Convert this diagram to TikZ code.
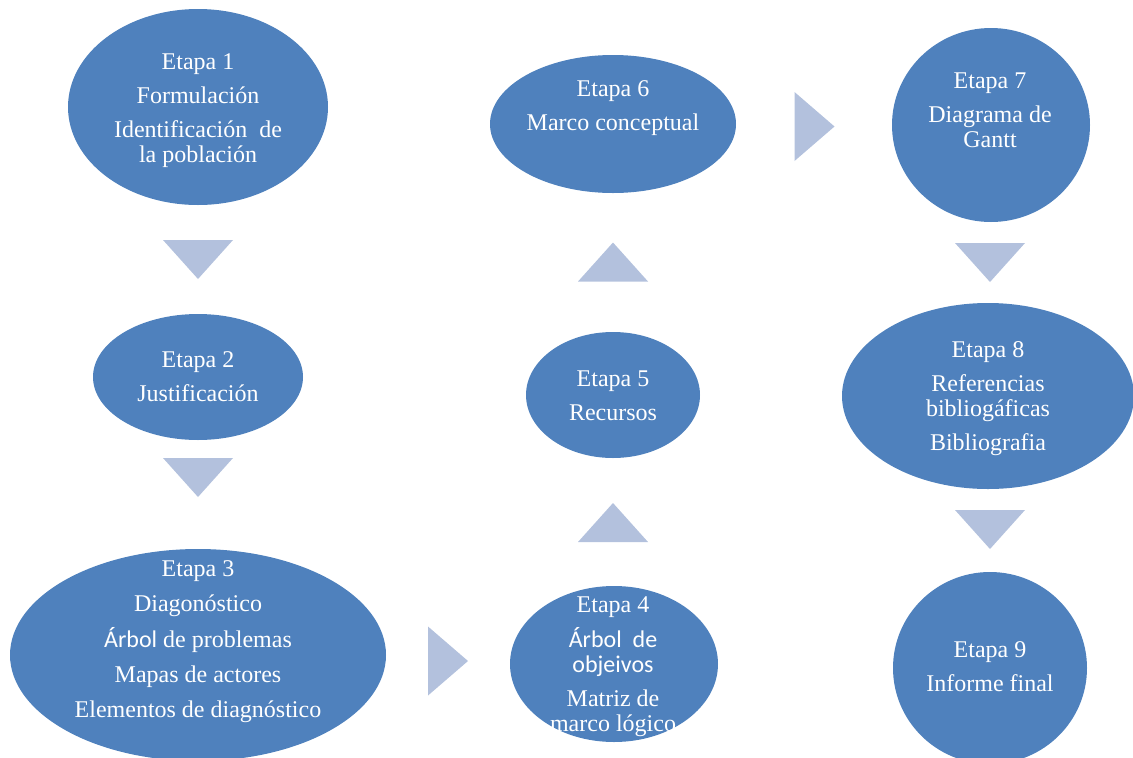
\documentclass[tikz,border=0pt]{standalone}
\usepackage{fontspec}
\setmainfont{Liberation Serif}
\newfontfamily\calibri{Carlito}
\usetikzlibrary{shapes.geometric}

\definecolor{stage fill}{HTML}{4F81BD}
\definecolor{pointer fill}{HTML}{B3C1DD}
\def\downtri{(-35,-19.5) -- (35,-19.5) -- (0,19.5) -- cycle}
\def\uptri{(-35,19.5) -- (35,19.5) -- (0,-19.5) -- cycle}
\def\righttri{(-20,-34.5) -- (-20,34.5) -- (20,0) -- cycle}
\tikzset{stage/.style={ellipse, fill=stage fill, inner sep=0pt},
    stagetext/.style={text=white, align=center, inner sep=0pt,
        font=\fontsize{24}{25}\selectfont},
    pointer/.style={fill=pointer fill}}

\begin{document}
\begin{tikzpicture}[x=1pt, y=-1pt]
    \clip (0,0) rectangle (1133,758);

    % stages
    \node[stage, minimum width=260pt, minimum height=196pt] (e1) at (198,107) {};
    \node[stage, minimum width=210pt, minimum height=126pt] (e2) at (198,377) {};
    \node[stage, minimum width=376pt, minimum height=212pt] (e3) at (198,655) {};
    \node[stage, minimum width=208pt, minimum height=156pt] (e4) at (614,664) {};
    \node[stage, minimum width=174pt, minimum height=126pt] (e5) at (613,395) {};
    \node[stage, minimum width=246pt, minimum height=138pt] (e6) at (613,124) {};
    \node[stage, minimum width=198pt, minimum height=194pt] (e7) at (991,125) {};
    \node[stage, minimum width=292pt, minimum height=186pt] (e8) at (988,396) {};
    \node[stage, minimum width=194pt, minimum height=192pt] (e9) at (990,668) {};

    % texts
    \node[stagetext] (t1) at (198,111) {Etapa 1\\[9pt] Formulación\\[9pt]
        Identificación\ \ de\\ la población};
    \node[stagetext] (t2) at (198,377) {Etapa 2\\[9pt] Justificación};
    \node[stagetext] (t3) at (198,642) {Etapa 3\\[10pt] Diagonóstico\\[10pt]
        {\calibri Árbol} de problemas\\[10pt] Mapas de actores\\[10pt]
        Elementos de diagnóstico};
    \node[stagetext] (t4) at (613,667) {Etapa 4\\[9pt] {\calibri Árbol\ \ de}\\
        {\calibri objeivos}\\[9pt] Matriz de\\ marco lógico};
    \node[stagetext] (t5) at (613,396) {Etapa 5\\[9pt] Recursos};
    \node[stagetext] (t6) at (613,108) {Etapa 6\\[9pt] Marco conceptual};
    \node[stagetext] (t7) at (990,110) {Etapa 7\\[9pt] Diagrama de\\ Gantt};
    \node[stagetext] (t8) at (988,399) {Etapa 8\\[9pt] Referencias\\
        bibliogáficas\\[9pt] Bibliografia};
    \node[stagetext] (t9) at (990,667) {Etapa 9\\[9pt] Informe final};

    % pointers
    \fill[pointer, shift={(198,259.5)}] \downtri;
    \fill[pointer, shift={(198,477.5)}] \downtri;
    \fill[pointer, shift={(448,661)}] \righttri;
    \fill[pointer, shift={(613,522.5)}] \uptri;
    \fill[pointer, shift={(613,262)}] \uptri;
    \fill[pointer, shift={(814.5,126.5)}] \righttri;
    \fill[pointer, shift={(990,262.5)}] \downtri;
    \fill[pointer, shift={(990,529.5)}] \downtri;
\end{tikzpicture}
\end{document}
